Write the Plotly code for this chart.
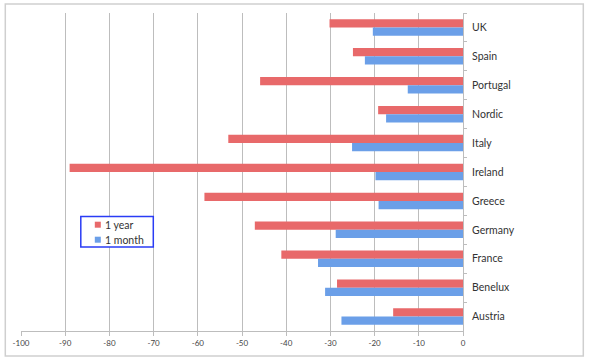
import plotly.graph_objects as go

categories = ["UK", "Spain", "Portugal", "Nordic", "Italy", "Ireland",
              "Greece", "Germany", "France", "Benelux", "Austria"]
one_year = [-30.2, -24.9, -45.9, -19.2, -53.1, -89.0, -58.5, -47.1, -41.1, -28.5, -15.8]
one_month = [-20.4, -22.2, -12.5, -17.4, -25.1, -19.8, -19.1, -28.8, -32.8, -31.2, -27.5]
series_names = ["1 year", "1 month"]
series_colors = ["#e8696a", "#6b9fe8"]
x_ticks = list(range(-100, 1, 10))

fig = go.Figure()
for name, vals, col in zip(series_names, [one_year, one_month], series_colors):
    fig.add_trace(go.Bar(y=categories, x=vals, orientation="h", name=name,
                         marker=dict(color=col, line=dict(width=0))))

W, H = 591, 364
ml, mr, mt, mb = 20.7, 128.3, 13, 33
pw, ph = W - ml - mr, H - mt - mb

def px(x):
    return (x - ml) / pw

def py(y):
    return (H - mb - y) / ph

shapes = [dict(type="rect", xref="paper", yref="paper",
               x0=px(5), x1=px(583), y0=py(356), y1=py(4),
               line=dict(color="#cfcfcf", width=1.5), fillcolor="rgba(0,0,0,0)",
               layer="below"),
          # legend box
          dict(type="rect", xref="paper", yref="paper",
               x0=px(80.5), x1=px(153), y0=py(247), y1=py(216.5),
               line=dict(color="#2a3cf5", width=1.5), fillcolor="white", layer="above")]
annotations = []
for i, (name, col) in enumerate(zip(series_names, series_colors)):
    cy = 224.7 + i * 15
    shapes.append(dict(type="rect", xref="paper", yref="paper",
                       x0=px(94.5), x1=px(100.5), y0=py(cy + 3), y1=py(cy - 3),
                       line=dict(width=0), fillcolor=col, layer="above"))
    annotations.append(dict(xref="paper", yref="paper", x=px(102.5), y=py(cy + 0.5),
                            xanchor="left", yanchor="middle", text=name, showarrow=False,
                            font=dict(size=10.5, color="#333333")))

fig.update_layout(
    width=W, height=H,
    margin=dict(l=ml, r=mr, t=mt, b=mb, pad=0, autoexpand=False),
    paper_bgcolor="white", plot_bgcolor="white",
    barmode="group", bargap=0.43, bargroupgap=0,
    font=dict(family="Lato, Open Sans, sans-serif", color="#333333"),
    showlegend=False,
    xaxis=dict(range=[-100, 0], tickvals=x_ticks, ticktext=[str(v) for v in x_ticks],
               automargin=False,
               showgrid=True, gridcolor="#bdbdbd", gridwidth=1,
               showline=True, linecolor="#bdbdbd", linewidth=1,
               ticks="outside", ticklen=4, tickcolor="#bdbdbd",
               tickfont=dict(size=8, color="#444444"), zeroline=False, fixedrange=True),
    yaxis=dict(side="right", autorange="reversed", type="category", automargin=False,
               showline=True, linecolor="#bdbdbd", linewidth=1,
               ticks="outside", ticklen=3, tickcolor="#bdbdbd", tickson="boundaries",
               tickfont=dict(size=10.5, color="#333333"), ticklabelstandoff=6,
               showgrid=False, fixedrange=True),
    shapes=shapes,
    annotations=annotations,
)

fig.write_html("out.html", config={"displayModeBar": False},
               post_script="document.body.style.margin='0';document.body.style.overflow='hidden';")
